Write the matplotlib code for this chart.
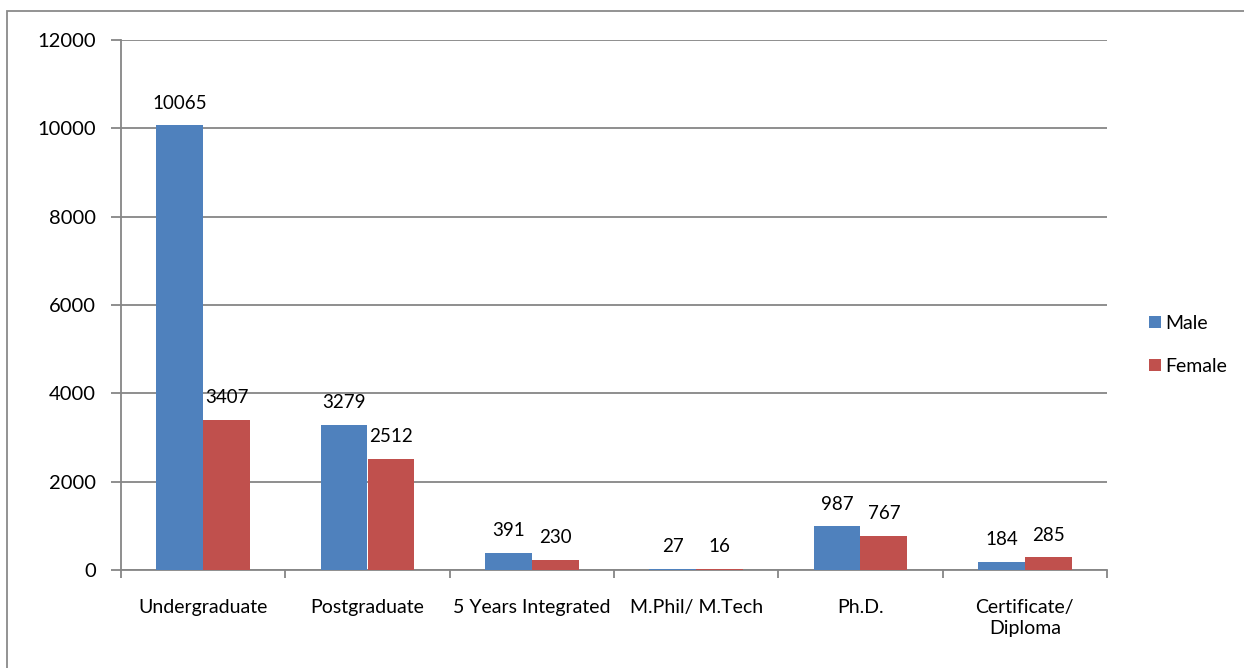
import numpy as np
import matplotlib.pyplot as plt
from matplotlib.patches import Rectangle

categories = ["Undergraduate", "Postgraduate", "5 Years Integrated",
              "M.Phil/ M.Tech", "Ph.D.", "Certificate/\nDiploma"]
male = [10065, 3279, 391, 27, 987, 184]
female = [3407, 2512, 230, 16, 767, 285]
y_ticks = [0, 2000, 4000, 6000, 8000, 10000, 12000]

plt.rcParams['font.family'] = ['Lato', 'DejaVu Sans']
plt.rcParams['font.size'] = 14

fig = plt.figure(figsize=(12.44, 6.68), dpi=100)
ax = fig.add_axes([121 / 1244, 1 - 570 / 668, (1107 - 121) / 1244, (570 - 40) / 668])

# chart border, cut off at the right and bottom like the original
fig.patches.append(Rectangle((7 / 1244, -0.1), 1.2, 1 - 11 / 668 + 0.1,
                             transform=fig.transFigure, fill=False,
                             edgecolor="#8a8a8a", linewidth=1.3))

x = np.arange(len(categories))
w = 1 / 3.5
b1 = ax.bar(x - w / 2, male, w, color="#4F81BD", label="Male", zorder=3)
b2 = ax.bar(x + w / 2, female, w, color="#C0504D", label="Female", zorder=3)
ax.bar_label(b1, padding=10, fontsize=13.5)
ax.bar_label(b2, padding=10, fontsize=13.5)

ax.set_xlim(-0.5, len(categories) - 0.5)
ax.set_ylim(0, 12000)
ax.set_yticks(y_ticks)
ax.yaxis.grid(True, color="#868686", linewidth=1.3, zorder=0)

# ticks between categories, labels at the centres
ax.set_xticks(np.arange(len(categories) + 1) - 0.5)
ax.set_xticklabels([])
ax.set_xticks(x, minor=True)
ax.set_xticklabels(categories, minor=True, va="top", linespacing=1.3)
ax.tick_params(axis="x", which="minor", length=0, pad=21)
ax.tick_params(axis="x", which="major", length=6, width=1.3, color="#868686")
ax.tick_params(axis="y", length=7, width=1.3, color="#868686", pad=11, labelsize=14.5)

for s in ["top", "right"]:
    ax.spines[s].set_visible(False)
for s in ["left", "bottom"]:
    ax.spines[s].set_color("#868686")
    ax.spines[s].set_linewidth(1.3)

ax.legend(loc="center left", bbox_to_anchor=(1.025, 0.425), frameon=False,
          handlelength=0.6, handleheight=0.6, handletextpad=0.25,
          labelspacing=1.35, fontsize=14)

fig.savefig("out.png", dpi=100)
